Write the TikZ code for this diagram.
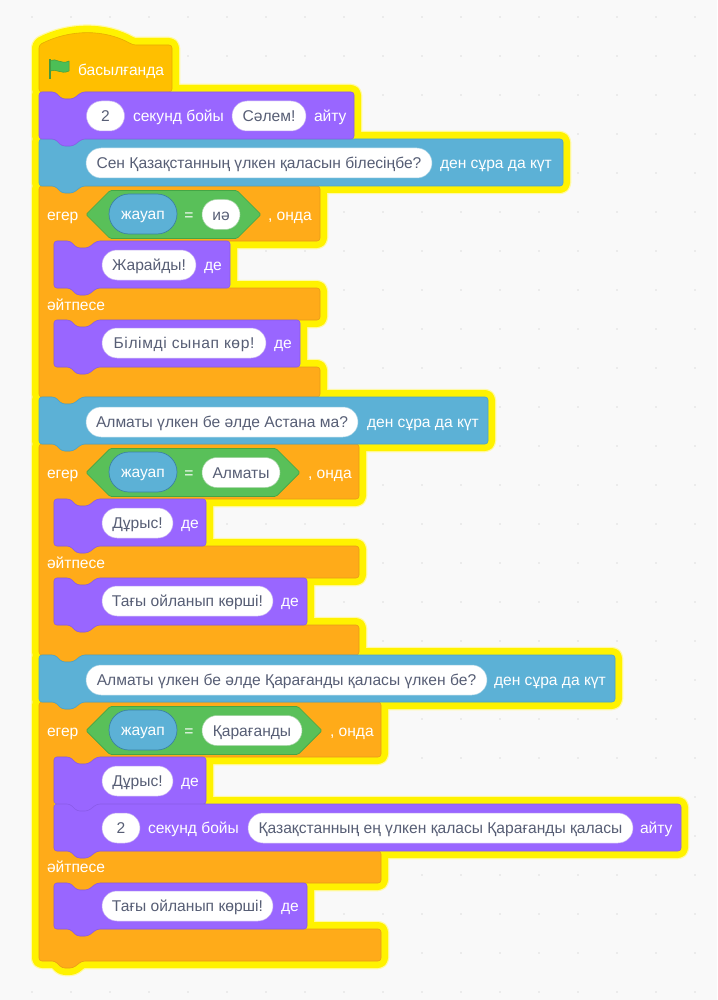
\documentclass[tikz,border=0pt]{standalone}
\usepackage{fontspec}
\setmainfont{Liberation Sans}
\usetikzlibrary{shapes.misc}
\definecolor{bgc}{HTML}{F9F9F9}
\definecolor{dotc}{HTML}{DDDDDD}
\definecolor{glowa}{HTML}{FFF9A8}
\definecolor{glowb}{HTML}{FFF200}
\definecolor{purF}{HTML}{9966FF}
\definecolor{purS}{HTML}{8A5BE8}
\definecolor{bluF}{HTML}{5CB1D6}
\definecolor{bluS}{HTML}{4BA3CA}
\definecolor{ornF}{HTML}{FFAB19}
\definecolor{ornS}{HTML}{E89C18}
\definecolor{evtF}{HTML}{FFBF00}
\definecolor{evtS}{HTML}{E6AD00}
\definecolor{grnF}{HTML}{59C059}
\definecolor{grnS}{HTML}{45A545}
\definecolor{flagF}{HTML}{4CBF56}
\definecolor{flagS}{HTML}{45993D}
\definecolor{inkc}{HTML}{575E75}
\newcommand{\topnotch}[3]{(#1+16,#2) -- ++(7,7) -- ++(11,0) -- ++(9,-7) -- (#3,#2)}
\newcommand{\botbump}[2]{(#1+43,#2) -- ++(-9,7) -- ++(-11,0) -- ++(-7,-7)}
\newcommand{\blk}[4]{(#1,#2) -- \topnotch{#1}{#2}{#3} -- (#3,#4) -- \botbump{#1}{#4} -- (#1,#4) -- cycle}
\newcommand{\cblk}[7]{(39,#2) -- \topnotch{39}{#2}{#1} -- (#1,#3) -- \botbump{54}{#3} -- (54,#3) -- (54,#4) -- \topnotch{54}{#4}{#1} -- (#1,#5) -- \botbump{54}{#5} -- (54,#5) -- (54,#6) -- \topnotch{54}{#6}{#1} -- (#1,#7) -- \botbump{39}{#7} -- (39,#7) -- cycle}
\newcommand{\hatp}{(39,45) .. controls (70,29) and (105,29) .. (133,45) -- (172,45) -- (172,92) -- \botbump{39}{92} -- (39,92) -- cycle}
\newcommand{\hexa}[2]{(86,#2) -- (110,#2-24) -- (#1-24,#2-24) -- (#1,#2) -- (#1-24,#2+24) -- (110,#2+24) -- cycle}
\newcommand{\eventshapes}{\hatp}
\newcommand{\purshapes}{\blk{39}{92}{354}{139} \blk{54}{241}{230}{288} \blk{54}{320}{300}{367} \blk{54}{499}{206}{546} \blk{54}{578}{307}{625} \blk{54}{757}{206}{804} \blk{54}{804}{681}{851} \blk{54}{883}{307}{929}}
\newcommand{\blushapes}{\blk{39}{139}{563}{186} \blk{39}{397}{488}{444} \blk{39}{655}{615}{702}}
\newcommand{\ornshapes}{\cblk{320}{186}{241}{288}{320}{367}{397} \cblk{359}{444}{499}{546}{578}{625}{655} \cblk{381}{702}{757}{851}{883}{929}{961}}
\tikzset{
  x=1pt,y=-1pt,
  every node/.style={font=\fontsize{15.6}{15.6}\selectfont,inner sep=0pt,outer sep=0pt,text height=14.5pt,text depth=3pt},
  blockbase/.style={line width=.6pt,rounded corners=3pt,line join=round},
  purblock/.style={blockbase,fill=purF,draw=purS},
  blublock/.style={blockbase,fill=bluF,draw=bluS},
  ornblock/.style={blockbase,fill=ornF,draw=ornS},
  evtblock/.style={blockbase,fill=evtF,draw=evtS},
  hexblock/.style={line width=.7pt,line join=round,rounded corners=1.5pt,fill=grnF,draw=grnS},
  glowouter/.style={draw=glowa,fill=glowa,line width=16.5pt,rounded corners=3pt,line join=round},
  glowinner/.style={draw=glowb,fill=glowb,line width=14pt,rounded corners=3pt,line join=round},
  lab/.style={text=white,anchor=west},
  eqlab/.style={text=white,anchor=center},
  pillbase/.style={shape=rounded rectangle,fill=white,text=inkc,minimum height=30pt,line width=.5pt},
  purpill/.style={pillbase,draw=purS!50},
  blupill/.style={pillbase,draw=bluS!50},
  grnpill/.style={pillbase,draw=grnS!50},
  sensepill/.style={shape=rounded rectangle,fill=bluF,draw=bluS!80!black,text=white,minimum width=68pt,minimum height=40pt,line width=.7pt},
  dotmark/.style={fill=dotc,draw=none},
}
\begin{document}
\begin{tikzpicture}
\useasboundingbox (0,0) rectangle (717,1000);
\fill[bgc] (0,0) rectangle (717,1000);
\foreach \dx in {0,...,17}{\foreach \dy in {0,...,25}{
  \fill[dotmark] (32+39*\dx,17+39*\dy) circle (0.8pt);
}}
% glow
\path[glowouter] \eventshapes \purshapes \blushapes \ornshapes;
\path[glowinner] \eventshapes \purshapes \blushapes \ornshapes;
% blocks
\draw[ornblock] \ornshapes;
\draw[evtblock] \eventshapes;
\draw[blublock] \blushapes;
\draw[purblock] \purshapes;
% hat
\fill[flagS] (48.6,59) rectangle (51,79);
\draw[line width=.5pt,draw=flagS,fill=flagF,line join=round]
  (50.5,60.5) .. controls (56,57.5) and (61,65) .. (69,61) -- (69,71)
  .. controls (61,75) and (56,68) .. (50.5,71) -- cycle;
\node[lab] (hatlabel) at (78,70) {басылғанда};
% say 1
\node[purpill,minimum width=38pt] (saya) at (105.5,116) {2};
\node[lab] (sayb) at (133,116) {секунд бойы};
\node[purpill,minimum width=74pt] (sayc) at (269,116) {Сәлем!};
\node[lab] (sayd) at (314,116) {айту};
% ask 1
\node[blupill,minimum width=346pt] (aska) at (259,163) {Сен Қазақстанның үлкен қаласын білесіңбе?};
\node[lab] (askb) at (440,163) {ден сұра да күт};
% if 1
\node[lab] (ifa) at (47,215) {егер};
\draw[hexblock] \hexa{261}{214.5};
\node[sensepill] (ifb) at (143,214) {жауап};
\node[eqlab] (ifc) at (189,215) {=};
\node[grnpill,minimum width=38pt] (ifd) at (221,214.5) {иә};
\node[lab] (ife) at (268,215) {, онда};
\node[purpill,minimum width=94pt] (yesa) at (149,265) {Жарайды!};
\node[lab] (yesb) at (204,265) {де};
\node[lab] (elsea) at (47,305) {әйтпесе};
\node[purpill,minimum width=164pt] (noa) at (184,343) {\addfontfeature{LetterSpace=4}Білімді сынап көр!};
\node[lab] (nob) at (274,343) {де};
% ask 2
\node[blupill,minimum width=272pt] (askc) at (222,422) {Алматы үлкен бе әлде Астана ма?};
\node[lab] (askd) at (367,422) {ден сұра да күт};
% if 2
\node[lab] (ifg) at (47,473) {егер};
\draw[hexblock] \hexa{300}{472.5};
\node[sensepill] (ifh) at (143,472) {жауап};
\node[eqlab] (ifi) at (189,473) {=};
\node[grnpill,minimum width=78pt] (ifj) at (241,472.5) {Алматы};
\node[lab] (ifk) at (308,473) {, онда};
\node[purpill,minimum width=71pt] (yesc) at (137.5,523) {Дұрыс!};
\node[lab] (yesd) at (181,523) {де};
\node[lab] (elseb) at (47,563) {әйтпесе};
\node[purpill,minimum width=171pt] (noc) at (187.5,601) {Тағы ойланып көрші!};
\node[lab] (nod) at (281,601) {де};
% ask 3
\node[blupill,minimum width=401pt] (aske) at (286.5,680) {Алматы үлкен бе әлде Қарағанды қаласы үлкен бе?};
\node[lab] (askf) at (494,680) {ден сұра да күт};
% if 3
\node[lab] (ifm) at (47,731) {егер};
\draw[hexblock] \hexa{322}{730.5};
\node[sensepill] (ifn) at (143,730) {жауап};
\node[eqlab] (ifo) at (189,731) {=};
\node[grnpill,minimum width=100pt] (ifp) at (252,730.5) {Қарағанды};
\node[lab] (ifq) at (330,731) {, онда};
\node[purpill,minimum width=71pt] (yese) at (137.5,781) {Дұрыс!};
\node[lab] (yesf) at (181,781) {де};
\node[purpill,minimum width=38pt] (longa) at (121,828) {2};
\node[lab] (longb) at (148,828) {секунд бойы};
\node[purpill,minimum width=385pt] (longc) at (440.5,828) {Қазақстанның ең үлкен қаласы Қарағанды қаласы};
\node[lab] (longd) at (640,828) {айту};
\node[lab] (elsec) at (47,867) {әйтпесе};
\node[purpill,minimum width=171pt] (noe) at (187.5,906) {Тағы ойланып көрші!};
\node[lab] (nof) at (281,906) {де};
\end{tikzpicture}
\end{document}
